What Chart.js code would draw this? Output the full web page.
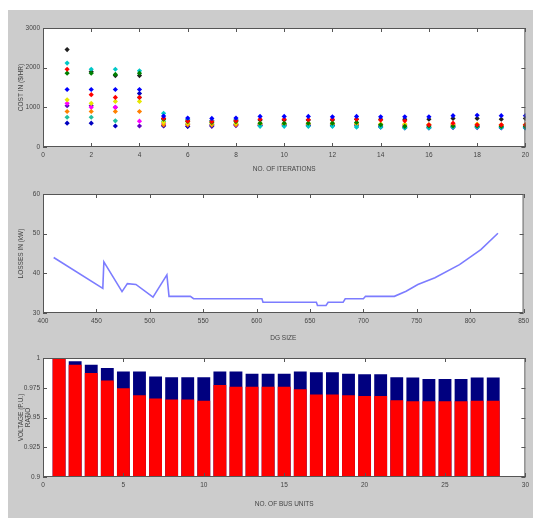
<!DOCTYPE html>
<html>
<head>
<meta charset="utf-8">
<script src="https://cdn.jsdelivr.net/npm/chart.js@4/dist/chart.umd.min.js"></script>
<style>
  html, body { margin: 0; padding: 0; background: #fff; }
  #fig { position: absolute; left: 8px; top: 10px; width: 525px; height: 508px; background: #cccccc; }
  #fig canvas { position: absolute; left: 0; }
</style>
</head>
<body>
<div id="fig">
  <canvas id="cost" width="525" height="172" style="top:0px"></canvas>
  <canvas id="loss" width="525" height="168" style="top:172px"></canvas>
  <canvas id="volt" width="525" height="173" style="top:335px"></canvas>
</div>
<script>
// ── Data ──────────────────────────────────────────────────────────
// plot 1 : cost per iteration, one list per colour
const iterations = [1,2,3,4,5,6,7,8,9,10,11,12,13,14,15,16,17,18,19,20];
const costBlue    = [1450,1450,1450,1450, 780,730,720,730,770,770,770,760,770,760,760,760,790,800,790,790];
const costRed     = [1960,1320,1250,1250, 720,650,640,660,700,700,690,700,700,680,660,560,600,560,560,560];
const costGreen   = [1860,1860,1830,1860, 700,640,620,640,600,600,600,600,620,560,520,530,530,530,520,520];
const costCyan    = [2115,1960,1960,1920, 850,700,660,680,520,520,520,520,500,500,480,480,500,500,490,480];
const costYellow  = [1190,1100,1150,1150, 620,600,600,600,600,590,600,600,600,580,580,560,560,580,560,560];
const costOrange  = [895,895,895,895, 560,560,560,560,580,580,580,580,580,570,560,560,560,560,540,560];
const costTeal    = [750,750,660,1250, 650,580,560,580,560,560,560,560,540,540,500,500,520,520,510,510];
const costBlue2   = [600,600,530,1350, 540,520,540,560,540,560,540,540,540,520,500,500,510,510,500,500];
const costMagenta = [1100,1000,1000,650, 600,570,560,560,560,560,560,560,560,560,540,540,550,550,550,550];
const costPurple  = [1040,1040,1000,530, 530,520,520,540,540,540,540,540,540,500,480,480,490,490,480,480];
const costBlack   = [2455,1900,1800,1800, 720,680,660,680,680,680,680,680,700,700,700,700,720,720,700,720];

// plot 2 : losses vs DG size
const dgSize = [410,456,457,474,479,487,503,516,518,538,541,605,606,656,657,665,667,681,683,700,702,729,740,751,767,790,810,826];
const losses = [44.0,36.2,42.9,35.4,37.4,37.2,34.0,39.6,34.2,34.2,33.6,33.6,32.7,32.7,31.9,31.9,32.7,32.7,33.6,33.6,34.2,34.2,35.5,37.2,38.9,42.2,46.0,50.1];

// plot 3 : bus voltages
const busNo = [1,2,3,4,5,6,7,8,9,10,11,12,13,14,15,16,17,18,19,20,21,22,23,24,25,26,27,28];
const voltRed  = [0.9998,0.9943,0.9873,0.9810,0.9745,0.9688,0.9660,0.9652,0.9652,0.9640,0.9773,0.9759,0.9759,0.9759,0.9759,0.9737,0.9694,0.9694,0.9688,0.9680,0.9680,0.9646,0.9637,0.9637,0.9637,0.9637,0.9640,0.9640];
const voltBlue = [1.0000,0.9972,0.9943,0.9915,0.9887,0.9887,0.9844,0.9839,0.9839,0.9839,0.9887,0.9887,0.9867,0.9867,0.9867,0.9887,0.9881,0.9881,0.9867,0.9864,0.9864,0.9839,0.9836,0.9824,0.9824,0.9824,0.9836,0.9836];

// ── Shared styling ────────────────────────────────────────────────
const FONT = { family: 'Liberation Sans, Arial, sans-serif', size: 6.5 };
const TXT = '#444';
const NOGRID = { display: false, drawTicks: false, tickLength: 0 };

// white axes area + box with inward ticks on all four sides
const boxPlugin = {
  id: 'box',
  beforeDraw(chart) {
    const { ctx, chartArea: a } = chart;
    ctx.save();
    ctx.fillStyle = '#fff';
    ctx.fillRect(a.left, a.top, a.right - a.left, a.bottom - a.top);
    ctx.restore();
  },
  afterDraw(chart) {
    const { ctx, chartArea: a, scales: { x, y } } = chart;
    ctx.save();
    ctx.strokeStyle = '#555';
    ctx.lineWidth = 1;
    ctx.strokeRect(a.left + 0.5, a.top + 0.5, a.right - a.left - 1, a.bottom - a.top - 1);
    ctx.beginPath();
    x.ticks.forEach(t => {
      const px = Math.round(x.getPixelForValue(t.value)) + 0.5;
      ctx.moveTo(px, a.bottom); ctx.lineTo(px, a.bottom - 4);
      ctx.moveTo(px, a.top); ctx.lineTo(px, a.top + 4);
    });
    y.ticks.forEach(t => {
      const py = Math.round(y.getPixelForValue(t.value)) + 0.5;
      ctx.moveTo(a.left, py); ctx.lineTo(a.left + 4, py);
      ctx.moveTo(a.right, py); ctx.lineTo(a.right - 4, py);
    });
    ctx.stroke();
    ctx.restore();
  }
};

function xAxis(min, max, step, title, height, padBottom, extra) {
  return Object.assign({
    type: 'linear', min, max,
    grid: NOGRID, border: { display: false },
    ticks: { stepSize: step, padding: 4, color: TXT, font: FONT, maxRotation: 0 },
    title: { display: true, text: title, color: TXT, font: FONT, padding: { top: 0, bottom: padBottom } },
    afterFit: s => { s.height = height; }
  }, extra || {});
}

function yAxis(min, max, step, title, fmt) {
  return {
    min, max,
    grid: NOGRID, border: { display: false },
    ticks: { stepSize: step, padding: 3, color: TXT, font: FONT, callback: fmt || (v => String(v)) },
    title: { display: true, text: title, color: TXT, font: FONT, padding: { top: 9, bottom: 0 } },
    afterFit: s => { s.width = 35; }
  };
}

const base = (padTop) => ({
  responsive: false,
  animation: false,
  devicePixelRatio: 1,
  layout: { padding: { top: padTop, right: 7, bottom: 0, left: 0 } },
  plugins: { legend: { display: false }, tooltip: { enabled: false } }
});

// ── Plot 1 : cost vs iterations ──────────────────────────────────
const costSeries = [
  [costBlue, '#0000ff'], [costRed, '#ff0000'], [costGreen, '#008000'],
  [costCyan, '#00c8c8'], [costYellow, '#e6e600'], [costOrange, '#ff8000'],
  [costTeal, '#20c0a0'], [costBlue2, '#0000c0'], [costMagenta, '#ff00ff'],
  [costPurple, '#6000c0'], [costBlack, '#202020']
];

new Chart(document.getElementById('cost'), {
  type: 'scatter',
  data: {
    datasets: costSeries.map(([vals, col]) => ({
      data: iterations.map((it, i) => ({ x: it, y: vals[i] })),
      pointStyle: 'rectRot', pointRadius: 2.6, borderWidth: 0,
      backgroundColor: col, borderColor: col
    }))
  },
  options: Object.assign(base(18), {
    scales: {
      x: xAxis(0, 20, 2, 'NO. OF ITERATIONS', 35, 9),
      y: yAxis(0, 3000, 1000, 'COST IN ($/HR)')
    }
  }),
  plugins: [boxPlugin]
});

// ── Plot 2 : losses vs DG size ───────────────────────────────────
new Chart(document.getElementById('loss'), {
  type: 'scatter',
  data: {
    datasets: [{
      data: dgSize.map((d, i) => ({ x: d, y: losses[i] })),
      showLine: true, pointRadius: 0,
      borderColor: 'rgba(80,80,255,0.75)', borderWidth: 1.6
    }]
  },
  options: Object.assign(base(12), {
    scales: {
      x: xAxis(400, 850, 50, 'DG SIZE', 37, 8),
      y: yAxis(30, 60, 10, 'LOSSES IN (kW)')
    }
  }),
  plugins: [boxPlugin]
});

// ── Plot 3 : voltage per bus ─────────────────────────────────────
new Chart(document.getElementById('volt'), {
  type: 'bar',
  data: {
    datasets: [
      { data: busNo.map((b, i) => ({ x: b, y: voltRed[i] })), backgroundColor: '#ff0000', grouped: false,
        barPercentage: 0.8, categoryPercentage: 1 },
      { data: busNo.map((b, i) => ({ x: b, y: voltBlue[i] })), backgroundColor: '#00007f', grouped: false,
        barPercentage: 0.8, categoryPercentage: 1 }
    ]
  },
  options: Object.assign(base(13), {
    scales: {
      x: xAxis(0, 30, 5, 'NO. OF BUS UNITS', 41, 10, { offset: false }),
      y: yAxis(0.9, 1, 0.025, ['VOLTAGE (P.U.)', 'RATIO'], v => String(+v.toFixed(3)))
    }
  }),
  plugins: [boxPlugin]
});
</script>
</body>
</html>
